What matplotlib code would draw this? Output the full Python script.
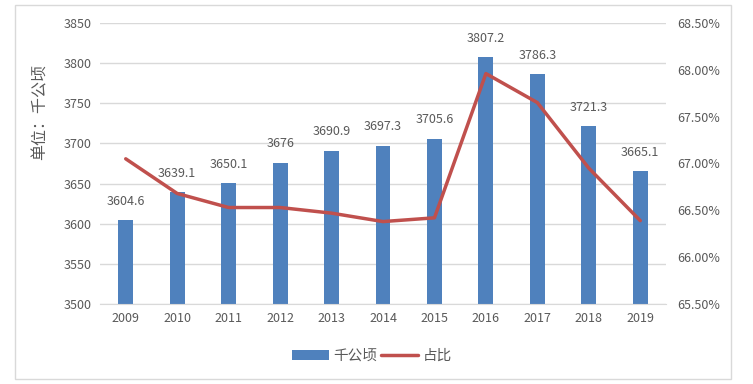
import matplotlib
matplotlib.use("Agg")
import matplotlib.pyplot as plt
from matplotlib.patches import Rectangle
from matplotlib.ticker import FuncFormatter

plt.rcParams['font.family'] = ['Noto Sans CJK SC', 'DejaVu Sans']

years = ['2009', '2010', '2011', '2012', '2013', '2014', '2015', '2016', '2017', '2018', '2019']
area = [3604.6, 3639.1, 3650.1, 3676, 3690.9, 3697.3, 3705.6, 3807.2, 3786.3, 3721.3, 3665.1]
area_labels = ['3604.6', '3639.1', '3650.1', '3676', '3690.9', '3697.3', '3705.6', '3807.2', '3786.3', '3721.3', '3665.1']
share = [67.05, 66.68, 66.53, 66.53, 66.47, 66.38, 66.42, 67.96, 67.65, 66.95, 66.39]

bar_color = '#4F81BD'
line_color = '#C0504D'
text_color = '#595959'
grid_color = '#D9D9D9'

fig = plt.figure(figsize=(7.53, 3.84), dpi=100)
fig.patches.append(Rectangle((15/753, 5/384), (731-15)/753, (379-5)/384,
                             transform=fig.transFigure, fill=False,
                             edgecolor=grid_color, linewidth=1.0))

ax = fig.add_axes([100/753, 1-304/384, 566/753, 281/384])
x = list(range(len(years)))
bars = ax.bar(x, area, width=0.29, color=bar_color, zorder=2, label='千公顷')
ax.set_ylim(3500, 3850)
ax.set_yticks(range(3500, 3851, 50))
ax.set_xlim(-0.5, len(years) - 0.5)
ax.set_xticks(x)
ax.set_xticklabels(years)
ax.grid(axis='y', color=grid_color, linewidth=1.0, zorder=0)
ax.set_axisbelow(True)
for s in ax.spines.values():
    s.set_visible(False)
ax.spines['bottom'].set_visible(True)
ax.spines['bottom'].set_color(grid_color)
ax.tick_params(length=0, labelsize=9, colors=text_color, pad=6)

for xi, v, lab in zip(x, area, area_labels):
    ax.annotate(lab, (xi, v), xytext=(0, 9), textcoords='offset points',
                ha='center', va='bottom', fontsize=9, color=text_color)

ax2 = ax.twinx()
line, = ax2.plot(x, share, color=line_color, linewidth=2.5, zorder=3, label='占比',
                 solid_capstyle='round', solid_joinstyle='round')
ax2.set_ylim(65.5, 68.5)
ax2.set_yticks([65.5, 66.0, 66.5, 67.0, 67.5, 68.0, 68.5])
ax2.yaxis.set_major_formatter(FuncFormatter(lambda v, p: f'{v:.2f}%'))
for s in ax2.spines.values():
    s.set_visible(False)
ax2.tick_params(length=0, labelsize=9, colors=text_color, pad=8)

fig.text(40/753, 1-112/384, '单位：千公顷', rotation=90, ha='center', va='center',
         fontsize=11.5, color=text_color)

fig.legend([bars, line], ['千公顷', '占比'], loc='center', bbox_to_anchor=(372/753, 1-356/384),
           ncol=2, frameon=False, fontsize=10.5, labelcolor=text_color,
           handlelength=2.5, handletextpad=0.3, columnspacing=0.3)

fig.savefig('out.png', dpi=100)
